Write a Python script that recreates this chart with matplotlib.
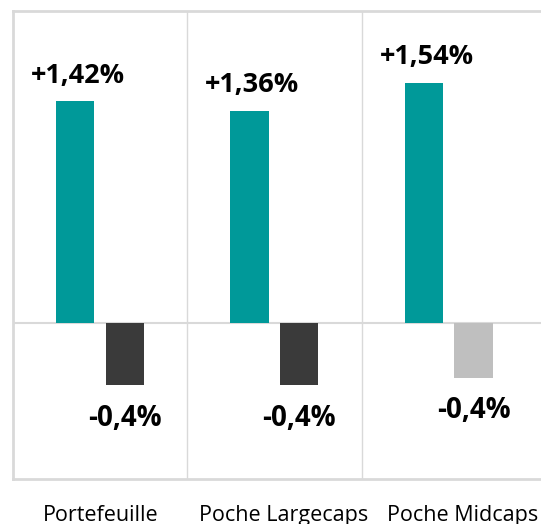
import matplotlib.pyplot as plt
import matplotlib.transforms as mtransforms
import numpy as np

plt.rcParams['font.family'] = ['Open Sans', 'DejaVu Sans']

categories = ['Portefeuille', 'Poche Largecaps', 'Poche Midcaps']
perf_pos = [1.42, 1.36, 1.54]
perf_neg = [-0.40, -0.40, -0.35]
pos_labels = ['+1,42%', '+1,36%', '+1,54%']
neg_labels = ['-0,4%', '-0,4%', '-0,4%']
neg_colors = ['#3a3a3a', '#3a3a3a', '#bfbfbf']

grid = '#d9d9d9'

fig = plt.figure(figsize=(5.41, 5.24), dpi=100)
ax = fig.add_axes([0.024, 0.086, 0.976, 0.893])

x = np.arange(len(categories))
w = 0.22
off = 0.143

ax.bar(x - off, perf_pos, width=w, color='#009999', zorder=3)
ax.bar(x + off, perf_neg, width=w, color=neg_colors, zorder=3)

for i in range(len(categories)):
    ax.annotate(pos_labels[i], (x[i] - off, perf_pos[i]), xytext=(2, 13.5),
                textcoords='offset points', ha='center', va='baseline',
                fontsize=19.5, fontweight='bold', color='black')
    ax.annotate(neg_labels[i], (x[i] + off, perf_neg[i]), xytext=(0, -29),
                textcoords='offset points', ha='center', va='baseline',
                fontsize=20, fontweight='bold', color='black')

ax.set_xlim(-0.5, 2.53)
ax.set_ylim(-1.0, 2.0)
ax.axhline(0, color=grid, linewidth=1.5, zorder=2)
for b in [0.5, 1.5]:
    ax.axvline(b, color=grid, linewidth=1.0, zorder=1)

ax.set_xticks(x)
ax.set_xticklabels(categories, fontsize=15.5)
ax.tick_params(axis='x', length=0, pad=19)
ax.set_yticks([])

# category labels sit a bit to the right in the original
shifts = [1, 9, 14]
for lab, dx in zip(ax.get_xticklabels(), shifts):
    lab.set_transform(lab.get_transform() +
                      mtransforms.ScaledTranslation(dx / 100, 0, fig.dpi_scale_trans))

for s in ['left', 'top', 'bottom']:
    ax.spines[s].set_color(grid)
    ax.spines[s].set_linewidth(2)
ax.spines['right'].set_visible(False)

fig.savefig('out.png', dpi=100)
